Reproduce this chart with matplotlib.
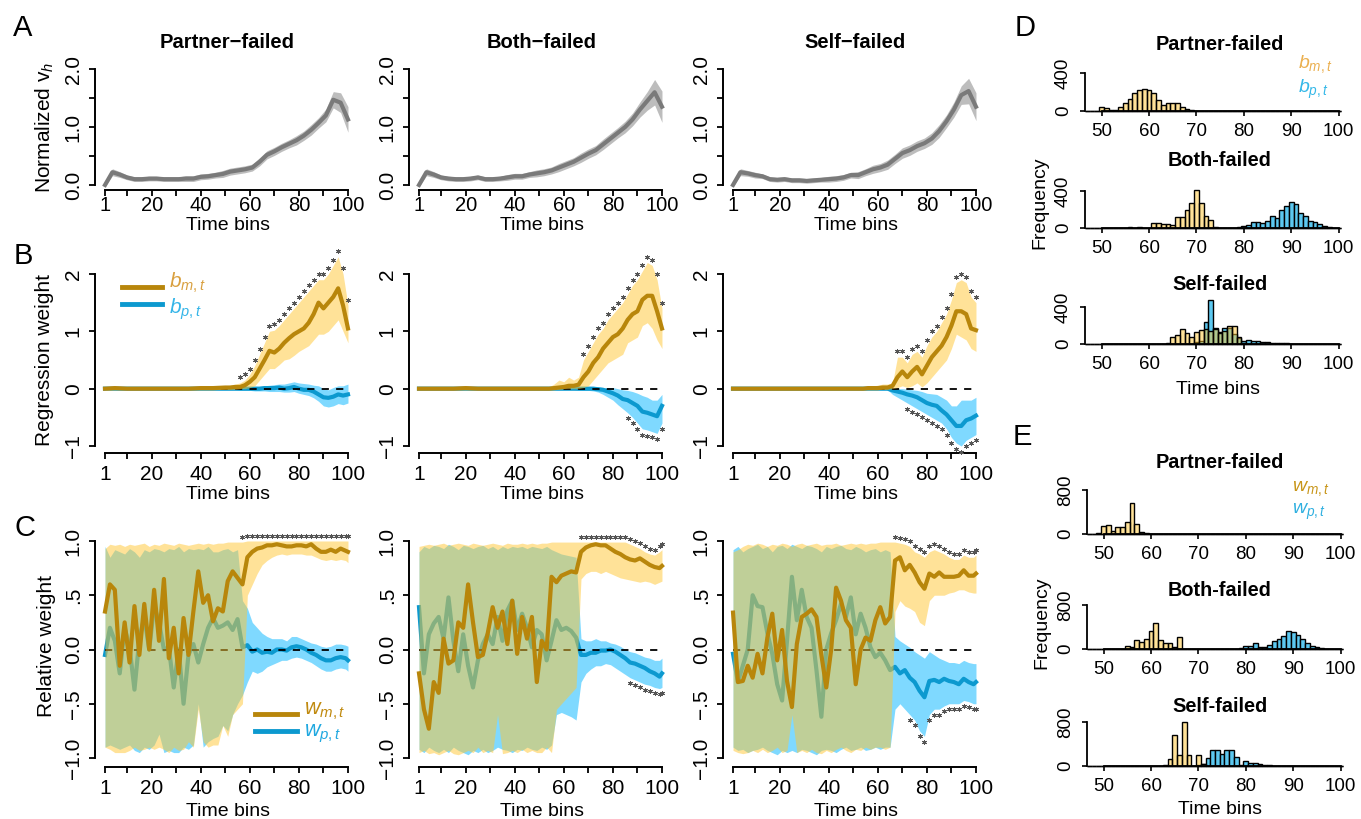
import numpy as np
import matplotlib
matplotlib.use('Agg')
import matplotlib.pyplot as plt

plt.rcParams['font.family'] = ['Liberation Sans', 'DejaVu Sans']
plt.rcParams['mathtext.fontset'] = 'custom'
plt.rcParams['mathtext.rm'] = 'Liberation Sans'
plt.rcParams['mathtext.it'] = 'Liberation Sans:italic'

# ---------------- data ----------------
titles = ['Partner\u2212failed', 'Both\u2212failed', 'Self\u2212failed']
hist_titles = ['Partner-failed', 'Both-failed', 'Self-failed']

# row A: normalized v_h (mean, half width of band), bins 1,4,...,100
tA = list(range(1, 101, 3))
vh_mean = [
    [0.0, 0.22, 0.18, 0.13, 0.1, 0.1, 0.11, 0.11, 0.1, 0.1,
     0.1, 0.11, 0.11, 0.14, 0.15, 0.17, 0.19, 0.23, 0.25, 0.27,
     0.3, 0.4, 0.52, 0.58, 0.65, 0.71, 0.77, 0.85, 0.95, 1.07,
     1.2, 1.47, 1.42, 1.13],
    [0.0, 0.22, 0.18, 0.13, 0.11, 0.1, 0.1, 0.11, 0.13, 0.1,
     0.1, 0.11, 0.13, 0.15, 0.15, 0.18, 0.2, 0.22, 0.25, 0.3,
     0.35, 0.4, 0.47, 0.54, 0.6, 0.7, 0.8, 0.9, 1.0, 1.13,
     1.3, 1.45, 1.6, 1.35],
    [0.0, 0.22, 0.2, 0.17, 0.15, 0.1, 0.09, 0.1, 0.08, 0.08,
     0.07, 0.08, 0.09, 0.1, 0.11, 0.13, 0.17, 0.17, 0.22, 0.27,
     0.3, 0.35, 0.45, 0.55, 0.6, 0.67, 0.72, 0.8, 0.93, 1.1,
     1.3, 1.55, 1.62, 1.35],
]
vh_hw = [
    [0.03, 0.06, 0.05, 0.04, 0.04, 0.04, 0.04, 0.04, 0.04, 0.04,
     0.04, 0.05, 0.05, 0.05, 0.05, 0.05, 0.06, 0.06, 0.06, 0.06,
     0.06, 0.07, 0.07, 0.07, 0.07, 0.07, 0.08, 0.08, 0.09, 0.09,
     0.11, 0.14, 0.17, 0.22],
    [0.03, 0.06, 0.05, 0.04, 0.04, 0.04, 0.04, 0.04, 0.04, 0.04,
     0.04, 0.04, 0.05, 0.05, 0.05, 0.05, 0.06, 0.06, 0.06, 0.07,
     0.07, 0.07, 0.08, 0.08, 0.08, 0.09, 0.09, 0.09, 0.1, 0.11,
     0.13, 0.16, 0.22, 0.27],
    [0.03, 0.06, 0.05, 0.05, 0.04, 0.04, 0.04, 0.04, 0.04, 0.04,
     0.04, 0.04, 0.04, 0.05, 0.05, 0.05, 0.05, 0.06, 0.06, 0.07,
     0.07, 0.08, 0.08, 0.09, 0.09, 0.09, 0.09, 0.1, 0.11, 0.11,
     0.13, 0.16, 0.22, 0.24],
]

# row B: regression weights
tB = [1, 5, 10, 15, 20, 25, 30, 35, 40, 45, 50] + list(range(52, 101, 2))
bm = [
    [0, 0.01, 0, 0, 0, 0, 0, 0, 0.01, 0.01, 0.02,
     0.02, 0.03, 0.03, 0.06, 0.12, 0.2, 0.35, 0.5, 0.66, 0.63, 0.7, 0.8, 0.88, 0.95, 1.0,
     1.05, 1.15, 1.3, 1.5, 1.4, 1.5, 1.6, 1.75, 1.45, 1.05],
    [0, 0, 0, 0, 0.01, 0, 0, 0, 0, 0, 0,
     0, 0, 0.01, 0.02, 0.03, 0.05, 0.05, 0.07, 0.2, 0.3, 0.45, 0.55, 0.7, 0.8, 0.9,
     0.95, 1.05, 1.2, 1.3, 1.35, 1.55, 1.62, 1.62, 1.35, 1.05],
    [0, 0, 0, 0, 0, 0, 0, 0, 0, 0, 0,
     0, 0, 0.01, 0.01, 0.01, 0.02, 0.02, 0.05, 0.2, 0.3, 0.2, 0.3, 0.38, 0.25, 0.4,
     0.55, 0.65, 0.75, 0.9, 1.1, 1.35, 1.35, 1.3, 1.05, 1.02],
]
bm_hi = [
    [0.03, 0.03, 0.02, 0.02, 0.02, 0.02, 0.02, 0.03, 0.03, 0.04, 0.05,
     0.06, 0.08, 0.1, 0.15, 0.25, 0.4, 0.6, 0.8, 1.0, 1.02, 1.1, 1.2, 1.3, 1.4, 1.5,
     1.6, 1.7, 1.8, 1.9, 1.9, 2.0, 2.15, 2.3, 2.0, 1.45],
    [0.02, 0.02, 0.02, 0.02, 0.02, 0.02, 0.02, 0.02, 0.02, 0.02, 0.02,
     0.03, 0.03, 0.08, 0.15, 0.12, 0.2, 0.15, 0.2, 0.5, 0.65, 0.8, 0.95, 1.05, 1.2, 1.3,
     1.4, 1.5, 1.65, 1.8, 1.9, 2.05, 2.2, 2.15, 1.9, 1.4],
    [0.02, 0.02, 0.02, 0.02, 0.02, 0.02, 0.02, 0.02, 0.02, 0.02, 0.02,
     0.02, 0.03, 0.04, 0.05, 0.06, 0.08, 0.08, 0.1, 0.55, 0.55, 0.45, 0.6, 0.65, 0.55, 0.75,
     0.9, 1.0, 1.15, 1.3, 1.55, 1.85, 1.9, 1.85, 1.6, 1.5],
]
bm_lo = [
    [-0.03, -0.02, -0.02, -0.02, -0.02, -0.02, -0.02, -0.02, -0.02, -0.02, -0.01,
     -0.01, -0.01, 0.0, 0.0, 0.02, 0.05, 0.15, 0.25, 0.35, 0.35, 0.42, 0.5, 0.52, 0.58, 0.65,
     0.7, 0.75, 0.85, 0.95, 0.95, 1.0, 1.1, 1.2, 1.0, 0.8],
    [-0.02, -0.02, -0.02, -0.02, -0.02, -0.02, -0.02, -0.02, -0.02, -0.02, -0.02,
     -0.02, -0.02, -0.02, -0.01, 0.0, 0.0, 0.0, 0.0, 0.02, 0.05, 0.15, 0.25, 0.35, 0.45, 0.5,
     0.55, 0.6, 0.8, 0.85, 0.9, 1.1, 1.15, 1.05, 0.85, 0.7],
    [-0.02, -0.02, -0.02, -0.02, -0.02, -0.02, -0.02, -0.02, -0.02, -0.02, -0.02,
     -0.02, -0.02, -0.02, -0.02, -0.02, -0.01, -0.01, 0.0, 0.02, 0.05, 0.02, 0.05, 0.1, 0.03, 0.1,
     0.2, 0.3, 0.4, 0.5, 0.7, 0.95, 0.9, 0.85, 0.7, 0.65],
]
bp = [
    [0, 0, 0, 0, 0, 0, 0, 0, 0, 0, 0,
     0, 0, 0, 0, 0, 0, 0, 0.01, 0.01, 0.01, 0.02, 0.0, 0.01, 0.03, 0.0,
     -0.02, -0.02, -0.05, -0.1, -0.15, -0.16, -0.14, -0.1, -0.12, -0.1],
    [0, 0, 0, 0, 0, 0, 0, 0, 0, 0, 0,
     0, 0, 0, 0, 0, 0, 0, 0, 0, 0, 0, -0.01, -0.02, -0.05, -0.08,
     -0.12, -0.18, -0.2, -0.25, -0.3, -0.4, -0.42, -0.45, -0.48, -0.3],
    [0, 0, 0, 0, 0, 0, 0, 0, 0, 0, 0,
     0, 0, 0, 0, 0, 0, 0, -0.03, -0.05, -0.07, -0.1, -0.12, -0.15, -0.2, -0.25,
     -0.28, -0.3, -0.38, -0.45, -0.55, -0.65, -0.65, -0.55, -0.52, -0.47],
]
bp_hi = [
    [0.02, 0.02, 0.02, 0.02, 0.02, 0.02, 0.02, 0.02, 0.02, 0.02, 0.02,
     0.02, 0.02, 0.03, 0.03, 0.03, 0.04, 0.04, 0.05, 0.06, 0.07, 0.08, 0.08, 0.1, 0.12, 0.1,
     0.09, 0.08, 0.06, 0.05, 0.0, -0.02, 0.02, 0.05, 0.05, 0.08],
    [0.02, 0.02, 0.02, 0.02, 0.02, 0.02, 0.02, 0.02, 0.02, 0.02, 0.02,
     0.02, 0.02, 0.02, 0.02, 0.02, 0.02, 0.02, 0.03, 0.03, 0.03, 0.03, 0.03, 0.02, 0.02, 0.02,
     0.0, -0.02, -0.03, -0.05, -0.08, -0.12, -0.15, -0.2, -0.2, -0.1],
    [0.02, 0.02, 0.02, 0.02, 0.02, 0.02, 0.02, 0.02, 0.02, 0.02, 0.02,
     0.02, 0.02, 0.02, 0.02, 0.02, 0.02, 0.02, 0.01, 0.0, 0.0, -0.01, -0.02, -0.03, -0.05, -0.08,
     -0.09, -0.1, -0.15, -0.2, -0.3, -0.3, -0.2, -0.2, -0.2, -0.15],
]
bp_lo = [
    [-0.02, -0.02, -0.02, -0.02, -0.02, -0.02, -0.02, -0.02, -0.02, -0.02, -0.02,
     -0.02, -0.02, -0.03, -0.03, -0.03, -0.04, -0.04, -0.04, -0.05, -0.05, -0.05, -0.06, -0.06, -0.05, -0.08,
     -0.1, -0.12, -0.16, -0.22, -0.3, -0.32, -0.3, -0.26, -0.28, -0.25],
    [-0.02, -0.02, -0.02, -0.02, -0.02, -0.02, -0.02, -0.02, -0.02, -0.02, -0.02,
     -0.02, -0.02, -0.02, -0.02, -0.02, -0.02, -0.02, -0.03, -0.03, -0.03, -0.04, -0.06, -0.1, -0.15, -0.2,
     -0.28, -0.35, -0.42, -0.5, -0.6, -0.7, -0.72, -0.75, -0.78, -0.6],
    [-0.02, -0.02, -0.02, -0.02, -0.02, -0.02, -0.02, -0.02, -0.02, -0.02, -0.02,
     -0.02, -0.02, -0.02, -0.02, -0.02, -0.02, -0.02, -0.1, -0.15, -0.2, -0.25, -0.3, -0.35, -0.4, -0.45,
     -0.5, -0.55, -0.6, -0.7, -0.85, -0.95, -1.0, -0.9, -0.85, -0.8],
]
# first significant point (index into tB), None = no stars
sigB_m = [13, 19, 19]
sigB_p = [None, 28, 21]

# row C: relative weights, bins 1,3,...,99,100
tC = list(range(1, 100, 2)) + [100]
wm = [
    [0.35, 0.6, 0.55, -0.15, 0.25, -0.12, 0.4, -0.05, 0.42, 0.0,
     0.55, 0.08, 0.65, -0.08, 0.2, -0.22, 0.29, -0.05, 0.35, 0.72,
     0.43, 0.5, 0.26, 0.38, 0.35, 0.63, 0.72, 0.66, 0.6, 0.85,
     0.9, 0.93, 0.94, 0.96, 0.96, 0.97, 0.96, 0.95, 0.95, 0.96,
     0.96, 0.95, 0.97, 0.93, 0.9, 0.9, 0.92, 0.9, 0.93, 0.91, 0.9],
    [-0.22, -0.55, -0.73, -0.3, -0.4, 0.1, -0.13, -0.1, 0.25, 0.2,
     0.6, 0.25, -0.07, -0.05, 0.15, 0.39, 0.2, 0.35, 0.05, 0.45,
     -0.04, 0.3, 0.1, 0.3, -0.3, 0.08, 0.0, 0.67, 0.62, 0.68,
     0.7, 0.72, 0.71, 0.9, 0.94, 0.96, 0.97, 0.96, 0.96, 0.93,
     0.9, 0.88, 0.85, 0.83, 0.82, 0.84, 0.81, 0.78, 0.76, 0.75, 0.77],
    [0.34, -0.3, -0.29, -0.15, -0.26, -0.04, -0.22, 0.11, 0.33, -0.1,
     0.18, -0.29, -0.53, 0.05, 0.3, 0.33, 0.37, 0.3, -0.05, -0.35,
     0.0, 0.57, 0.45, 0.27, 0.2, -0.32, 0.0, 0.11, 0.08, 0.27,
     0.39, 0.24, 0.3, 0.82, 0.85, 0.73, 0.78, 0.71, 0.62, 0.56,
     0.7, 0.67, 0.71, 0.67, 0.67, 0.67, 0.68, 0.73, 0.68, 0.68, 0.7],
]
wm_hi = [
    [0.93, 0.97, 0.96, 0.97, 0.95, 0.97, 0.96, 0.97, 0.98, 0.95,
     0.97, 0.96, 0.98, 0.97, 0.96, 0.98, 0.97, 0.96, 0.97, 0.98,
     0.97, 0.98, 0.97, 0.98, 0.98, 0.99, 0.99, 0.99, 0.99, 1.0,
     1.0, 1.0, 1.0, 1.0, 1.0, 1.0, 1.0, 1.0, 1.0, 1.0,
     1.0, 1.0, 1.0, 1.0, 1.0, 1.0, 1.0, 1.0, 1.0, 1.0, 1.0],
    [0.95, 0.96, 0.97, 0.96, 0.97, 0.98, 0.96, 0.97, 0.98, 0.97,
     0.96, 0.98, 0.97, 0.96, 0.97, 0.98, 0.97, 0.96, 0.98, 0.97,
     0.97, 0.98, 0.97, 0.98, 0.97, 0.98, 0.98, 0.99, 0.99, 0.99,
     0.99, 0.99, 0.99, 0.99, 0.99, 0.99, 0.99, 0.99, 0.99, 0.99,
     0.99, 0.99, 0.99, 0.97, 0.95, 0.93, 0.9, 0.88, 0.87, 0.9, 0.92],
    [0.9, 0.92, 0.95, 0.97, 0.96, 0.98, 0.97, 0.95, 0.97, 0.96,
     0.98, 0.97, 0.95, 0.97, 0.98, 0.96, 0.97, 0.98, 0.96, 0.97,
     0.97, 0.98, 0.96, 0.97, 0.98, 0.97, 0.98, 0.97, 0.98, 0.98,
     0.99, 0.99, 0.99, 0.99, 0.98, 0.97, 0.95, 0.9, 0.88, 0.85,
     0.9, 0.92, 0.9, 0.88, 0.85, 0.83, 0.83, 0.87, 0.85, 0.85, 0.87],
]
wm_lo = [
    [-0.9, -0.92, -0.95, -0.95, -0.95, -0.93, -0.9, -0.93, -0.92, -0.9,
     -0.92, -0.9, -0.92, -0.95, -0.9, -0.93, -0.92, -0.85, -0.9, -0.55,
     -0.85, -0.9, -0.88, -0.88, -0.7, -0.8, -0.6, -0.55, -0.5, 0.5,
     0.6, 0.7, 0.78, 0.82, 0.85, 0.87, 0.88, 0.87, 0.88, 0.88,
     0.88, 0.87, 0.87, 0.85, 0.83, 0.82, 0.83, 0.82, 0.83, 0.82, 0.8],
    [-0.95, -0.93, -0.96, -0.95, -0.97, -0.95, -0.93, -0.96, -0.97, -0.95,
     -0.93, -0.95, -0.9, -0.95, -0.93, -0.95, -0.6, -0.96, -0.95, -0.93,
     -0.95, -0.92, -0.95, -0.93, -0.95, -0.95, -0.9, -0.95, -0.55, -0.5,
     -0.45, -0.4, -0.35, 0.65, 0.7, 0.72, 0.72, 0.7, 0.72, 0.7,
     0.68, 0.66, 0.65, 0.64, 0.63, 0.62, 0.63, 0.62, 0.6, 0.62, 0.63],
    [-0.93, -0.95, -0.96, -0.95, -0.93, -0.95, -0.92, -0.95, -0.93, -0.9,
     -0.95, -0.93, -0.6, -0.95, -0.93, -0.95, -0.92, -0.95, -0.96, -0.93,
     -0.95, -0.92, -0.9, -0.93, -0.95, -0.92, -0.93, -0.9, -0.92, -0.9,
     -0.9, -0.92, -0.9, 0.35, 0.45, 0.4, 0.38, 0.35, 0.25, 0.22,
     0.45, 0.5, 0.5, 0.5, 0.52, 0.53, 0.55, 0.55, 0.53, 0.52, 0.52],
]
wp = [
    [-0.05, 0.2, 0.08, -0.22, 0.2, 0.02, -0.37, 0.1, 0.3, 0.0,
     0.4, 0.25, 0.0, 0.02, -0.35, 0.0, -0.5, -0.05, 0.05, -0.12,
     0.05, 0.2, 0.29, 0.2, 0.22, 0.25, 0.18, 0.28, 0.02, 0.04,
     -0.02, 0.0, -0.03, -0.02, -0.03, 0.0, 0.0, -0.01, 0.02, 0.03,
     0.02, 0.0, -0.03, -0.05, -0.08, -0.1, -0.1, -0.08, -0.07, -0.08, -0.1],
    [0.39, -0.22, 0.14, 0.24, 0.3, 0.1, 0.48, 0.08, -0.2, 0.14,
     -0.15, -0.35, -0.1, 0.05, 0.14, 0.05, 0.3, 0.08, 0.36, 0.45,
     0.18, 0.33, 0.2, 0.02, 0.18, 0.14, -0.1, 0.08, 0.27, 0.18,
     0.2, 0.17, 0.11, -0.05, -0.05, -0.03, -0.03, -0.01, -0.01, 0.0,
     -0.02, -0.05, -0.08, -0.12, -0.13, -0.15, -0.17, -0.2, -0.22, -0.25, -0.22],
    [-0.04, -0.3, -0.15, 0.0, 0.5, 0.4, 0.39, 0.15, -0.04, -0.32,
     -0.47, 0.08, 0.67, 0.27, 0.55, 0.3, 0.2, -0.19, -0.62, 0.0,
     0.15, 0.27, 0.42, 0.3, 0.48, 0.14, 0.33, 0.2, 0.02, -0.07,
     -0.03, -0.1, -0.19, -0.16, -0.22, -0.19, -0.26, -0.3, -0.38, -0.44,
     -0.29, -0.28, -0.3, -0.27, -0.29, -0.3, -0.32, -0.27, -0.3, -0.32, -0.3],
]
wp_hi = [
    [0.95, 0.85, 0.92, 0.9, 0.88, 0.93, 0.9, 0.85, 0.92, 0.9,
     0.93, 0.92, 0.9, 0.93, 0.92, 0.95, 0.9, 0.93, 0.92, 0.93,
     0.92, 0.95, 0.9, 0.9, 0.92, 0.93, 0.9, 0.92, 0.45, 0.38,
     0.25, 0.2, 0.15, 0.12, 0.1, 0.1, 0.1, 0.08, 0.12, 0.12,
     0.1, 0.08, 0.06, 0.05, 0.03, 0.02, 0.03, 0.05, 0.05, 0.04, 0.03],
    [0.9, 0.95, 0.93, 0.96, 0.95, 0.93, 0.97, 0.95, 0.92, 0.96,
     0.95, 0.93, 0.95, 0.96, 0.93, 0.95, 0.92, 0.95, 0.93, 0.95,
     0.94, 0.95, 0.93, 0.95, 0.94, 0.93, 0.95, 0.92, 0.9, 0.88,
     0.87, 0.86, 0.85, 0.1, 0.08, 0.08, 0.1, 0.08, 0.08, 0.06,
     0.05, 0.03, 0.0, -0.02, -0.03, -0.05, -0.07, -0.08, -0.1, -0.1, -0.08],
    [0.92, 0.95, 0.9, 0.93, 0.95, 0.97, 0.93, 0.95, 0.9, 0.95,
     0.96, 0.93, 0.97, 0.95, 0.93, 0.96, 0.95, 0.93, 0.9, 0.95,
     0.93, 0.95, 0.96, 0.93, 0.92, 0.95, 0.93, 0.9, 0.92, 0.93,
     0.9, 0.92, 0.9, 0.12, 0.08, 0.05, 0.02, -0.02, -0.05, -0.08,
     -0.02, -0.05, -0.08, -0.1, -0.12, -0.12, -0.13, -0.1, -0.12, -0.13, -0.13],
]
wp_lo = [
    [-0.9, -0.88, -0.9, -0.92, -0.9, -0.88, -0.93, -0.95, -0.9, -0.92,
     -0.88, -0.78, -0.95, -0.93, -0.95, -0.95, -0.9, -0.92, -0.88, -0.5,
     -0.9, -0.85, -0.82, -0.8, -0.7, -0.75, -0.6, -0.5, -0.42, -0.3,
     -0.2, -0.22, -0.2, -0.16, -0.14, -0.12, -0.1, -0.1, -0.08, -0.07,
     -0.08, -0.1, -0.12, -0.15, -0.18, -0.2, -0.2, -0.18, -0.17, -0.18, -0.2],
    [-0.92, -0.95, -0.9, -0.93, -0.95, -0.92, -0.95, -0.9, -0.93, -0.95,
     -0.97, -0.93, -0.95, -0.92, -0.95, -0.93, -0.9, -0.92, -0.93, -0.95,
     -0.92, -0.93, -0.9, -0.92, -0.93, -0.9, -0.92, -0.88, -0.6, -0.58,
     -0.6, -0.62, -0.65, -0.3, -0.22, -0.18, -0.15, -0.15, -0.13, -0.14,
     -0.17, -0.2, -0.23, -0.26, -0.28, -0.3, -0.32, -0.33, -0.35, -0.36, -0.35],
    [-0.9, -0.93, -0.92, -0.95, -0.93, -0.92, -0.9, -0.93, -0.95, -0.97,
     -0.93, -0.95, -0.93, -0.95, -0.92, -0.93, -0.95, -0.97, -0.93, -0.92,
     -0.93, -0.95, -0.92, -0.9, -0.93, -0.92, -0.9, -0.93, -0.92, -0.9,
     -0.92, -0.9, -0.9, -0.55, -0.5, -0.55, -0.6, -0.65, -0.75, -0.8,
     -0.6, -0.55, -0.55, -0.52, -0.5, -0.5, -0.5, -0.47, -0.48, -0.5, -0.5],
]
sigC_m = [28, 33, 33]
sigC_p = [None, 43, 36]

# D / E histograms: counts per time bin, listed from a first bin
bins = np.arange(47, 101)
D_m = [(49, [5, 38, 35, 12, 12, 45, 80, 130, 185, 220, 235, 220, 185, 115, 60, 80, 85, 80, 40, 25, 10, 5, 3]),
       (55, [5, 8, 5, 8, 5, 3, 55, 55, 40, 45, 30, 115, 115, 200, 270, 415, 270, 125, 90, 10, 5, 5, 3, 3]),
       (63, [5, 10, 80, 100, 160, 120, 80, 135, 155, 160, 140, 160, 120, 140, 190, 200, 80, 10, 5])]
D_p = [(47, []),
       (78, [5, 10, 20, 35, 65, 60, 50, 80, 125, 110, 190, 240, 285, 260, 160, 125, 80, 60, 40, 25, 10, 5, 3]),
       (70, [20, 30, 235, 480, 170, 135, 170, 170, 110, 60, 30, 45, 30, 30, 20, 20, 15, 12, 10, 8, 5, 3, 3])]
E_m = [(49, [10, 145, 160, 60, 135, 135, 220, 570, 175, 40, 10, 5]),
       (54, [5, 60, 30, 160, 135, 180, 335, 465, 165, 115, 105, 40, 225, 5]),
       (62, [5, 10, 135, 560, 205, 800, 195, 5, 195, 30])]
E_p = [(47, []),
       (77, [3, 5, 10, 55, 55, 105, 45, 40, 75, 150, 175, 235, 335, 315, 255, 180, 115, 55, 30, 15, 5]),
       (70, [10, 30, 150, 285, 285, 225, 285, 300, 165, 25, 90, 60, 50, 40, 15, 10, 5, 5, 5, 5])]

# ---------------- style ----------------
BROWN = '#B8860B'
BLUE_LINE = '#0C99CF'
YEL_FILL = (1.0, 0.78, 0.2, 0.5)
BLUE_FILL = (0.0, 0.71, 1.0, 0.5)
HIST_BLUE = '#5CC8F0'
STAR_C = '#555555'

W, H = 1361, 819
fig = plt.figure(figsize=(W / 100, H / 100), dpi=100)


def add_ax(l, t, r, b):
    return fig.add_axes([l / W, 1 - b / H, (r - l) / W, (b - t) / H])


def ftext(x, y, s, **kw):
    fig.text(x / W, 1 - y / H, s, **kw)


XT = [1, 10, 20, 30, 40, 50, 60, 70, 80, 90, 100]
XTL = ['1', '', '20', '', '40', '', '60', '', '80', '', '100']


def style_main(ax, ylim, yt, ytl, xpad, xsize=15):
    ax.set_xlim(-2.96, 103.96)
    ax.set_ylim(*ylim)
    ax.spines['top'].set_visible(False)
    ax.spines['right'].set_visible(False)
    ax.spines['left'].set_bounds(yt[0], yt[-1])
    ax.spines['bottom'].set_bounds(1, 100)
    for s in ['left', 'bottom']:
        ax.spines[s].set_linewidth(1.4)
    ax.set_xticks(XT)
    ax.set_xticklabels(XTL)
    ax.set_yticks(yt)
    ax.set_yticklabels(ytl, rotation=90, va='center')
    ax.tick_params(length=4, width=1.3, labelsize=15)
    ax.tick_params(axis='x', pad=xpad, labelsize=xsize)
    ax.tick_params(axis='y', pad=5)
    ax.patch.set_alpha(0)


def stars(ax, x, y):
    ax.plot(x, y, ls='none', marker=(6, 2, 0), ms=3.5, mew=0.7, color=STAR_C,
            clip_on=False, zorder=6)


cols = [(95.3, 357.7), (409.3, 671.7), (723.3, 985.7)]

for c in range(3):
    l, r = cols[c]
    # ---- A ----
    ax = add_ax(l, 64.4, r, 189.6)
    m = np.array(vh_mean[c])
    hw = np.array(vh_hw[c])
    ax.fill_between(tA, m - hw, m + hw, color='#BDBDBD', lw=0)
    ax.plot(tA, m, color='#7A7A7A', lw=3)
    style_main(ax, (-0.08, 2.08), [0, 0.5, 1.0, 1.5, 2.0], ['0.0', '', '1.0', '', '2.0'], 0.8, 14.5)
    ftext((l + r) / 2 + 1, 42, titles[c], fontsize=14.5, fontweight='bold', ha='center', va='center')
    ftext((l + r) / 2 + 2, 225, 'Time bins', fontsize=14, ha='center', va='center')

    # ---- B ----
    ax = add_ax(l, 267.1, r, 452.9)
    ax.fill_between(tB, bp_lo[c], bp_hi[c], color=BLUE_FILL, lw=0, clip_on=False, zorder=1)
    ax.plot(tB, bp[c], color=BLUE_LINE, lw=3, clip_on=False, zorder=2)
    ax.plot([1, 100], [0, 0], color='k', lw=1.3, ls=(0, (4, 4)), zorder=2.5)
    ax.fill_between(tB, bm_lo[c], bm_hi[c], color=YEL_FILL, lw=0, clip_on=False, zorder=3)
    ax.plot(tB, bm[c], color=BROWN, lw=3, clip_on=False, zorder=4)
    if sigB_m[c] is not None:
        i0 = sigB_m[c]
        stars(ax, tB[i0:], np.array(bm_hi[c][i0:]) + 0.1)
    if sigB_p[c] is not None:
        i0 = sigB_p[c]
        stars(ax, tB[i0:], np.array(bp_lo[c][i0:]) - 0.1)
    style_main(ax, (-1.12, 2.12), [-1, 0, 1, 2], ['\u22121', '0', '1', '2'], 5)
    ftext((l + r) / 2 + 2, 495, 'Time bins', fontsize=14, ha='center', va='center')
    if c == 0:
        ax.plot([7.9, 24.2], [1.77, 1.77], color=BROWN, lw=3.5, clip_on=False)
        ax.plot([7.9, 24.2], [1.48, 1.48], color=BLUE_LINE, lw=3.5, clip_on=False)
        ax.text(27.0, 1.85, r'$b_{m,t}$', color='#D9A040', fontsize=15, va='center')
        ax.text(27.0, 1.39, r'$b_{p,t}$', color='#35B5E8', fontsize=15, va='center')

    # ---- C ----
    ax = add_ax(l, 532.3, r, 766.7)
    ax.fill_between(tC, wp_lo[c], wp_hi[c], color=BLUE_FILL, lw=0, zorder=1)
    ax.plot(tC, wp[c], color=BLUE_LINE, lw=3, zorder=2)
    ax.plot([1, 100], [0, 0], color='k', lw=1.3, ls=(0, (4, 4)), zorder=2.5)
    ax.fill_between(tC, wm_lo[c], wm_hi[c], color=YEL_FILL, lw=0, zorder=3)
    ax.plot(tC, wm[c], color=BROWN, lw=3, zorder=4)
    if sigC_m[c] is not None:
        i0 = sigC_m[c]
        stars(ax, tC[i0:], np.array(wm_hi[c][i0:]) + 0.05)
    if sigC_p[c] is not None:
        i0 = sigC_p[c]
        stars(ax, tC[i0:], np.array(wp_lo[c][i0:]) - 0.05)
    style_main(ax, (-1.08, 1.08), [-1, -0.5, 0, 0.5, 1],
               ['\u22121.0', '\u2212.5', '0.0', '.5', '1.0'], 5)
    ftext((l + r) / 2 + 2, 812, 'Time bins', fontsize=14, ha='center', va='center')
    if c == 0:
        ax.plot([62.1, 79.2], [-0.594, -0.594], color=BROWN, lw=3.5, zorder=5)
        ax.plot([62.1, 79.2], [-0.751, -0.751], color=BLUE_LINE, lw=3.5, zorder=5)
        ax.text(82.0, -0.57, r'$w_{m,t}$', color='#C08A10', fontsize=15.5, va='center', zorder=5)
        ax.text(82.0, -0.78, r'$w_{p,t}$', color='#20A8E0', fontsize=15.5, va='center', zorder=5)

# y labels and panel letters
ftext(45, 127, 'Normalized $\\mathrm{v}_h$', fontsize=15, rotation=90, ha='center', va='center')
ftext(45, 360, 'Regression weight', fontsize=15, rotation=90, ha='center', va='center')
ftext(47, 646, 'Relative weight', fontsize=15, rotation=90, ha='center', va='center')
for s, x, y in [('A', 23, 28), ('B', 23, 256), ('C', 25, 528), ('D', 1025, 28), ('E', 1022, 437)]:
    ftext(x, y, s, fontsize=21, ha='center', va='center')


# ---------------- histograms ----------------
def full_counts(spec):
    start, vals = spec
    out = np.zeros(len(bins))
    out[start - 47:start - 47 + len(vals)] = vals
    return out


def hist_panel(l, t, r, b, ymax, m_spec, p_spec, title, title_y):
    ax = add_ax(l, t, r, b)
    ax.bar(bins, full_counts(p_spec), width=1, color=HIST_BLUE, edgecolor='k', lw=1.0, clip_on=False)
    ax.bar(bins, full_counts(m_spec), width=1, color=YEL_FILL, edgecolor='k', lw=1.0, clip_on=False)
    ax.set_xlim(46.5, 100.5)
    ax.set_ylim(0, ymax)
    ax.spines['top'].set_visible(False)
    ax.spines['right'].set_visible(False)
    ax.spines['left'].set_bounds(0, ymax)
    ax.spines['bottom'].set_bounds(50, 100)
    for s in ['left', 'bottom']:
        ax.spines[s].set_linewidth(1.3)
    ax.set_xticks([50, 60, 70, 80, 90, 100])
    ax.set_yticks([0, ymax])
    ax.set_yticklabels(['0', str(ymax)], rotation=90, va='center')
    ax.tick_params(length=3.5, width=1.2, labelsize=13.5)
    ax.tick_params(axis='x', pad=5)
    ax.tick_params(axis='y', pad=6)
    ax.patch.set_alpha(0)
    ftext(1220, title_y, title, fontsize=14.3, fontweight='bold', ha='center', va='center')
    return ax


D_rows = [(73, 111, 45), (191, 228, 161), (307, 344, 284)]
E_rows = [(490, 534, 463), (605, 649, 591), (722, 766, 706)]
for k in range(3):
    t, b, ty = D_rows[k]
    hist_panel(1085, t, 1341, b, 400, D_m[k], D_p[k], hist_titles[k], ty)
    t, b, ty = E_rows[k]
    hist_panel(1087, t, 1343, b, 800, E_m[k], E_p[k], hist_titles[k], ty)

ftext(1218, 390, 'Time bins', fontsize=14, ha='center', va='center')
ftext(1220, 810, 'Time bins', fontsize=14, ha='center', va='center')
ftext(1040, 203, 'Frequency', fontsize=14, rotation=90, ha='center', va='center')
ftext(1042, 623, 'Frequency', fontsize=14, rotation=90, ha='center', va='center')

ftext(1298, 64, r'$b_{m,t}$', color='#EBB050', fontsize=14, ha='left', va='center')
ftext(1298, 89, r'$b_{p,t}$', color='#35B8E8', fontsize=14, ha='left', va='center')
ftext(1292, 489, r'$w_{m,t}$', color='#C8961A', fontsize=14, ha='left', va='center')
ftext(1292, 512, r'$w_{p,t}$', color='#30B0E0', fontsize=14, ha='left', va='center')

fig.savefig('out.png', dpi=100)
